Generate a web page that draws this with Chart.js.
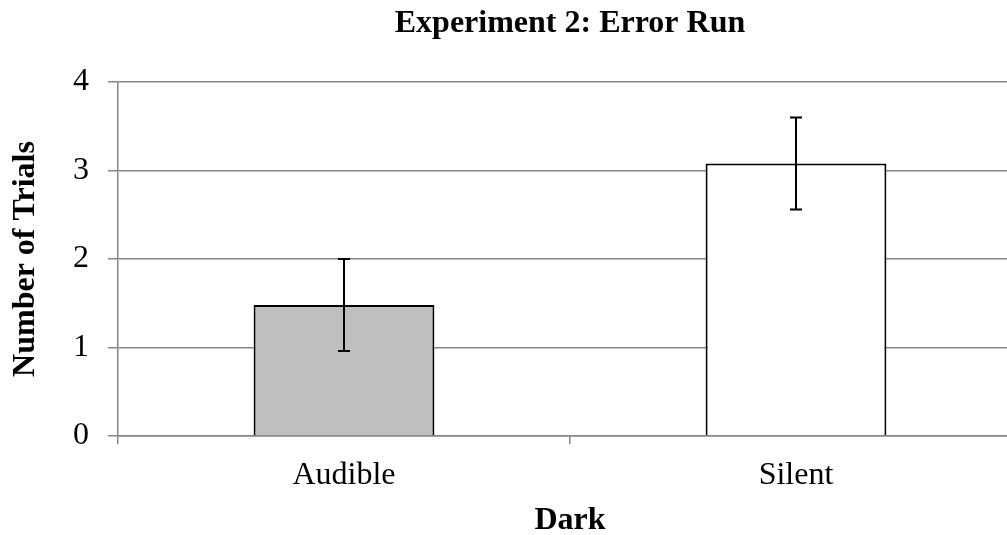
<!DOCTYPE html>
<html lang="en">

<head>
    <meta charset="UTF-8">
    <title>Experiment 2: Error Run</title>
    <style>
        body {
            margin: 0;
            overflow: hidden;
            background: #fff;
        }

        .holder {
            width: 1022px;
            height: 535px;
        }
    </style>
    <script src="https://cdn.jsdelivr.net/npm/chart.js"></script>
</head>

<body>
    <div class="holder">
        <canvas id="myChart"></canvas>
    </div>

    <script>
        const categories = ['Audible', 'Silent'];
        const trials = [1.48, 3.08];
        const trialErrors = [0.52, 0.52];
        const yTicks = [0, 1, 2, 3, 4];

        const serif = "'Liberation Serif', 'Times New Roman', serif";
        const gridGray = '#868686';

        // draws the error bars from the values above
        const errorBars = {
            id: 'errorBars',
            afterDatasetsDraw(chart) {
                const ctx = chart.ctx;
                const y = chart.scales.y;
                const meta = chart.getDatasetMeta(0);
                ctx.save();
                ctx.strokeStyle = '#000';
                ctx.lineWidth = 2;
                meta.data.forEach((bar, i) => {
                    const top = y.getPixelForValue(trials[i] + trialErrors[i]);
                    const bottom = y.getPixelForValue(trials[i] - trialErrors[i]);
                    const x = Math.round(bar.x);
                    ctx.beginPath();
                    ctx.moveTo(x, top);
                    ctx.lineTo(x, bottom);
                    ctx.moveTo(x - 6, top);
                    ctx.lineTo(x + 6, top);
                    ctx.moveTo(x - 6, bottom);
                    ctx.lineTo(x + 6, bottom);
                    ctx.stroke();
                });
                ctx.restore();
            }
        };

        new Chart(document.getElementById('myChart'), {
            type: 'bar',
            data: {
                labels: categories,
                datasets: [{
                    data: trials,
                    backgroundColor: ['#bfbfbf', '#ffffff'],
                    borderColor: '#000',
                    borderWidth: 2,
                    barPercentage: 0.4,
                    categoryPercentage: 1
                }]
            },
            options: {
                responsive: true,
                maintainAspectRatio: false,
                animation: false,
                layout: {
                    padding: 0
                },
                plugins: {
                    legend: { display: false },
                    tooltip: { enabled: false },
                    title: {
                        display: true,
                        text: 'Experiment 2: Error Run',
                        fullSize: false,
                        color: '#000',
                        font: { family: serif, size: 32, weight: 'bold', lineHeight: 1 },
                        padding: { top: 8, bottom: 42 }
                    }
                },
                scales: {
                    x: {
                        afterFit: scale => { scale.height = 99; },
                        grid: {
                            drawOnChartArea: false,
                            color: gridGray,
                            lineWidth: 1.5,
                            tickLength: 8
                        },
                        border: { color: gridGray, width: 1.5 },
                        ticks: {
                            color: '#000',
                            padding: 12,
                            font: { family: serif, size: 32 }
                        },
                        title: {
                            display: true,
                            text: 'Dark',
                            color: '#000',
                            font: { family: serif, size: 32, weight: 'bold', lineHeight: 1 },
                            padding: { top: 0, bottom: -2 }
                        }
                    },
                    y: {
                        min: 0,
                        max: 4,
                        afterFit: scale => { scale.width = 118; },
                        afterBuildTicks: scale => {
                            scale.ticks = yTicks.map(v => ({ value: v }));
                        },
                        grid: {
                            color: gridGray,
                            lineWidth: 1.5,
                            tickLength: 10
                        },
                        border: { color: gridGray, width: 1.5 },
                        ticks: {
                            color: '#000',
                            padding: 19,
                            font: { family: serif, size: 32 }
                        },
                        title: {
                            display: true,
                            text: 'Number of Trials',
                            color: '#000',
                            font: { family: serif, size: 32, weight: 'bold', lineHeight: 1 },
                            padding: { top: 10, bottom: 0 }
                        }
                    }
                }
            },
            plugins: [errorBars]
        });
    </script>
</body>

</html>
